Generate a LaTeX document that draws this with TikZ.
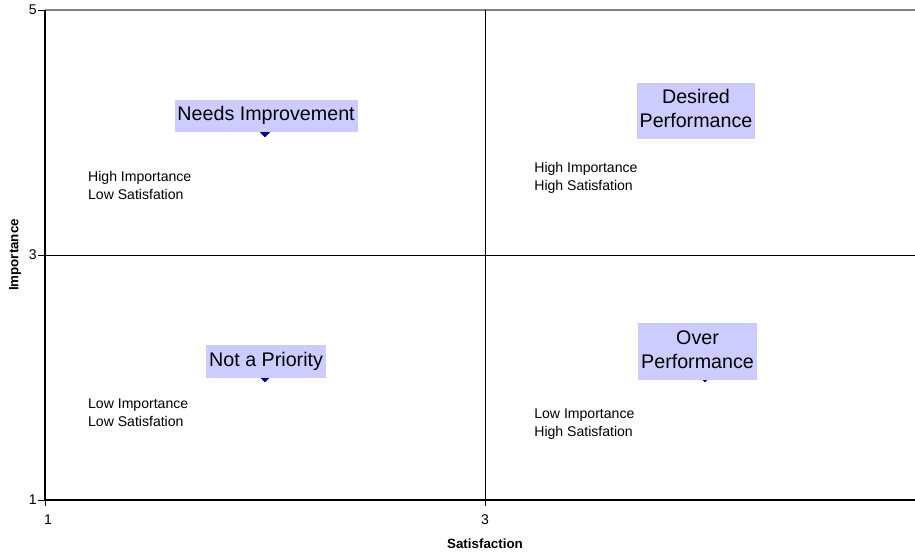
\documentclass[tikz,border=0pt]{standalone}
\usepackage{fontspec}
\setmainfont{Liberation Sans}
\usetikzlibrary{shapes.geometric}
\definecolor{labelbox}{RGB}{204,204,255}
\definecolor{marker}{RGB}{0,0,128}
\definecolor{plotedge}{RGB}{128,128,128}

\begin{document}
\begin{tikzpicture}[x=5.5cm, y=3.0625cm,
        quadlabel/.style={fill=labelbox, font=\fontsize{14}{17}\selectfont, inner xsep=2pt, inner ysep=3.2pt, align=center},
        quadnote/.style={anchor=west, font=\fontsize{10}{12.8}\selectfont, align=left, inner sep=0pt},
        ticklabel/.style={font=\fontsize{10}{12}\selectfont, inner sep=0pt},
        axistitle/.style={font=\fontsize{9.5}{11}\selectfont\bfseries, inner sep=0pt},
        point/.style={diamond, fill=marker, inner sep=0pt, minimum size=7pt}]
    \useasboundingbox (0.7955, 0.5592) rectangle (4.9545, 5.0816);

    % plot area edge
    \draw[plotedge, line width=1pt] (1, 5) -- (4.9545, 5);
    \draw[plotedge, line width=1pt] (1, 0.996) -- (4.9545, 0.996);

    % axes and quadrant lines
    \draw[line width=0.8pt] (1, 5) -- (1, 1) -- (4.9545, 1);
    \draw[line width=0.6pt] (3, 5) -- (3, 1);
    \draw[line width=0.6pt] (1, 3) -- (4.9545, 3);

    % ticks
    \draw[line width=0.6pt] (1, 5) -- (0.968, 5);
    \draw[line width=0.6pt] (1, 3) -- (0.968, 3);
    \draw[line width=0.6pt] (1, 1) -- (0.968, 1);
    \draw[line width=0.6pt] (1, 1) -- (1, 0.951);
    \draw[line width=0.6pt] (3, 1) -- (3, 0.951);

    \node[ticklabel, anchor=east] (y5) at (0.964, 5) {5};
    \node[ticklabel, anchor=east] (y3) at (0.964, 3) {3};
    \node[ticklabel, anchor=east] (y1) at (0.964, 1) {1};
    \node[ticklabel] (x1) at (1.014, 0.837) {1};
    \node[ticklabel] (x3) at (3, 0.837) {3};

    \node[axistitle] (xtitle) at (3, 0.645) {Satisfaction};
    \node[axistitle, rotate=90] (ytitle) at (0.864, 3) {Importance};

    % data points, partly hidden under their labels
    \node[point] (p11) at (2, 4) {};
    \node[point] (p21) at (4, 4) {};
    \node[point] (p12) at (2, 2) {};
    \node[point] (p22) at (4, 2) {};

    \node[quadlabel] (needs) at (2.005, 4.135) {\strut Needs Improvement};
    \node[quadlabel] (desired) at (3.959, 4.176) {\strut Desired\\\strut Performance};
    \node[quadlabel] (nopri) at (2.005, 2.127) {\strut Not a Priority};
    \node[quadlabel] (over) at (3.966, 2.212) {\strut Over\\\strut Performance};

    \node[quadnote] (hilo) at (1.195, 3.571) {High Importance\\Low Satisfation};
    \node[quadnote] (hihi) at (3.223, 3.629) {High Importance\\High Satisfation};
    \node[quadnote] (lolo) at (1.195, 1.714) {Low Importance\\Low Satisfation};
    \node[quadnote] (lohi) at (3.223, 1.621) {Low Importance\\High Satisfation};
\end{tikzpicture}
\end{document}
